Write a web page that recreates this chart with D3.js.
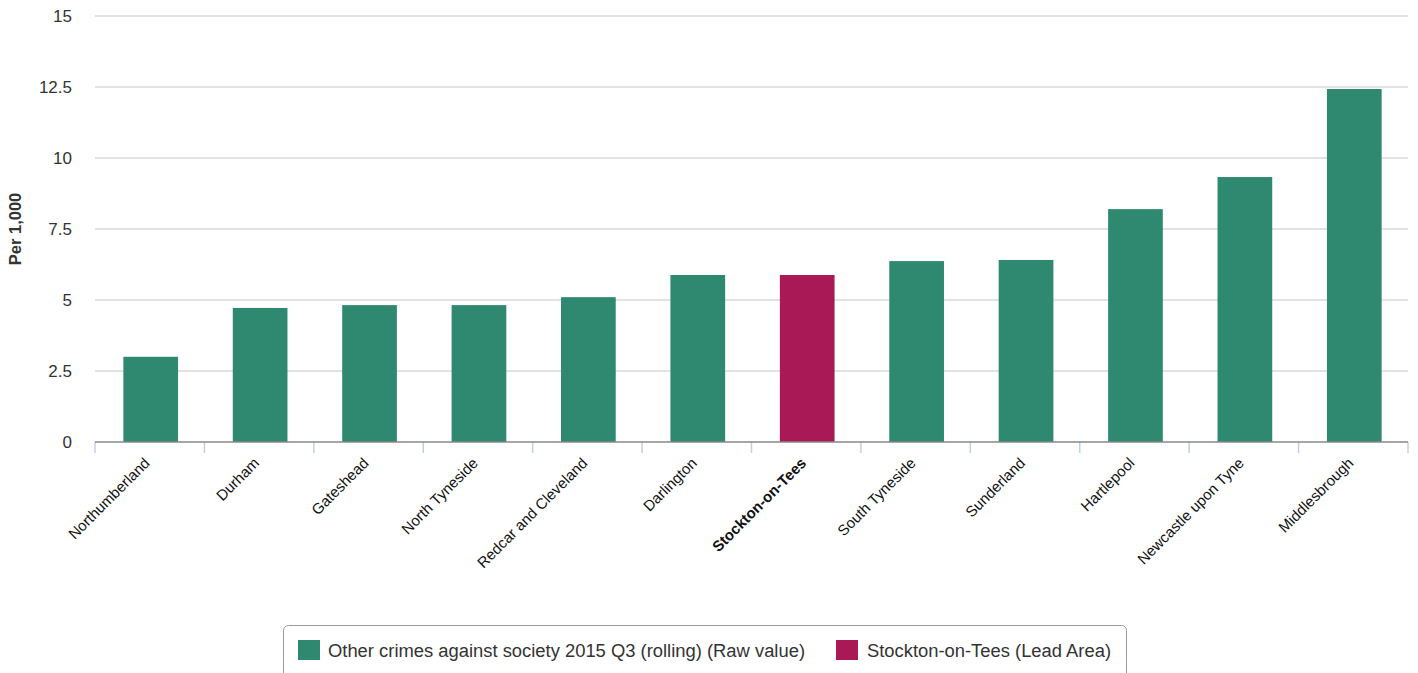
<!DOCTYPE html>
<html lang="en">
<head>
<meta charset="utf-8">
<script src="https://d3js.org/d3.v7.min.js"></script>
<style>
  body { margin: 0; background: #fff; }
  svg { display: block; font-family: "Liberation Sans", Arial, sans-serif; }
</style>
</head>
<body>
<svg id="chart" width="1418" height="673"></svg>
<script>

// data
var areas = ["Northumberland", "Durham", "Gateshead", "North Tyneside", "Redcar and Cleveland",
             "Darlington", "Stockton-on-Tees", "South Tyneside", "Sunderland", "Hartlepool",
             "Newcastle upon Tyne", "Middlesbrough"];
var values = [3.0, 4.72, 4.82, 4.82, 5.1, 5.88, 5.88, 6.37, 6.41, 8.2, 9.33, 12.43];
var leadArea = "Stockton-on-Tees";
var yTicks = [0, 2.5, 5, 7.5, 10, 12.5, 15];
var legendNames = ["Other crimes against society 2015 Q3 (rolling) (Raw value)", "Stockton-on-Tees (Lead Area)"];

var green = "#2e8970", lead = "#a91955";

var svg = d3.select("#chart");
var plotL = 95, plotR = 1408, plotT = 16, plotB = 442;

var x = d3.scaleBand().domain(areas).range([plotL, plotR]).paddingInner(0.5).paddingOuter(0.25);
var y = d3.scaleLinear().domain([0, 15]).range([plotB, plotT]);

// gridlines
svg.append("g")
  .selectAll("line")
  .data(yTicks.filter(function(d) { return d > 0; }))
  .enter().append("line")
    .attr("x1", plotL).attr("x2", plotR)
    .attr("y1", function(d) { return y(d); })
    .attr("y2", function(d) { return y(d); })
    .attr("stroke", "#d8d8d8").attr("stroke-width", 1.5);

// y labels
svg.append("g")
  .selectAll("text")
  .data(yTicks)
  .enter().append("text")
    .attr("x", 72)
    .attr("y", function(d) { return y(d) + 6; })
    .attr("text-anchor", "end")
    .attr("font-size", "17px")
    .attr("fill", "#333")
    .text(function(d) { return d; });

svg.append("text")
  .attr("transform", "translate(21," + 229 + ") rotate(-90)")
  .attr("text-anchor", "middle")
  .attr("font-size", "16.5px")
  .attr("font-weight", "bold")
  .attr("fill", "#333")
  .text("Per 1,000");

// bars (shifted 1px right like the reference)
svg.append("g")
  .selectAll("rect")
  .data(areas)
  .enter().append("rect")
    .attr("x", function(d) { return x(d) + 1; })
    .attr("width", x.bandwidth())
    .attr("y", function(d, i) { return y(values[i]); })
    .attr("height", function(d, i) { return plotB - y(values[i]); })
    .attr("fill", function(d) { return d == leadArea ? lead : green; });

// x axis line + ticks
var step = x.step();
var tickPos = d3.range(areas.length + 1).map(function(i) { return plotL + i * step; });
svg.append("g")
  .selectAll("line")
  .data(tickPos)
  .enter().append("line")
    .attr("x1", function(d) { return d; }).attr("x2", function(d) { return d; })
    .attr("y1", plotB).attr("y2", plotB + 11)
    .attr("stroke", "#c0d0e0").attr("stroke-width", 1.5);

svg.append("line")
  .attr("x1", plotL).attr("x2", plotR)
  .attr("y1", plotB).attr("y2", plotB)
  .attr("stroke", "#888").attr("stroke-width", 1.5);

// category labels
svg.append("g")
  .selectAll("text")
  .data(areas)
  .enter().append("text")
    .attr("transform", function(d) {
      return "translate(" + (x(d) + x.bandwidth() / 2 + 1) + "," + (plotB + 22) + ") rotate(-45)";
    })
    .attr("text-anchor", "end")
    .attr("font-size", "15px")
    .attr("font-weight", function(d) { return d == leadArea ? "bold" : "normal"; })
    .attr("fill", "#111")
    .text(function(d) { return d; });

// legend
var lg = svg.append("g");
lg.append("rect")
  .attr("x", 283.5).attr("y", 625.5)
  .attr("width", 843).attr("height", 60)
  .attr("rx", 5)
  .attr("fill", "#fff").attr("stroke", "#999");

var legendItems = [
  { name: legendNames[0], color: green, x: 298, tx: 328, w: 477 },
  { name: legendNames[1], color: lead, x: 836, tx: 867, w: 244 }
];
legendItems.forEach(function(it) {
  lg.append("rect").attr("x", it.x).attr("y", 640).attr("width", 22).attr("height", 20).attr("fill", it.color);
  lg.append("text")
    .attr("x", it.tx).attr("y", 657)
    .attr("font-size", "18px")
    .attr("textLength", it.w)
    .attr("lengthAdjust", "spacingAndGlyphs")
    .attr("fill", "#333")
    .text(it.name);
});

</script>
</body>
</html>
